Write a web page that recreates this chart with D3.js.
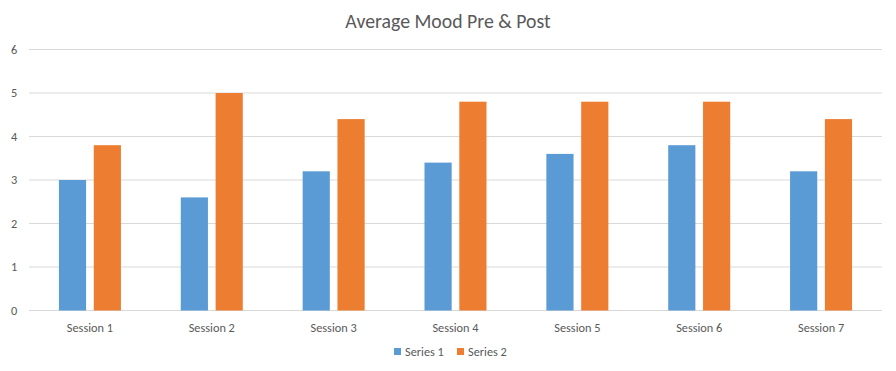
<!DOCTYPE html>
<html>
<head>
<meta charset="utf-8">
<script src="https://cdn.jsdelivr.net/npm/d3@7"></script>
<style>
  body { margin: 0; background: #fff; }
  text { font-family: Carlito, "Open Sans", "Liberation Sans", sans-serif; fill: #595959; }
</style>
</head>
<body>
<div id="chart"></div>
<script>
var sessions = ["Session 1", "Session 2", "Session 3", "Session 4", "Session 5", "Session 6", "Session 7"];
var series1 = [3, 2.6, 3.2, 3.4, 3.6, 3.8, 3.2];
var series2 = [3.8, 5, 4.4, 4.8, 4.8, 4.8, 4.4];
var seriesNames = ["Series 1", "Series 2"];
var colors = ["#5B9BD5", "#ED7D31"];
var yTicks = [0, 1, 2, 3, 4, 5, 6];

var svgWidth = 896, svgHeight = 371;
var margin = { top: 49.5, right: 14, bottom: 60.5, left: 29 };
var width = svgWidth - margin.left - margin.right;
var height = svgHeight - margin.top - margin.bottom;

var svg = d3.select("#chart").append("svg")
  .attr("width", svgWidth)
  .attr("height", svgHeight);

var chartGroup = svg.append("g")
  .attr("transform", `translate(${margin.left}, ${margin.top})`);

var x0 = d3.scaleBand().domain(sessions).range([0, width]);
var x1 = d3.scaleBand().domain(seriesNames).range([0, 62]).paddingInner(0.22);
var y = d3.scaleLinear().domain([0, 6]).range([height, 0]);

// gridlines
chartGroup.append("g").selectAll("line")
  .data(yTicks)
  .enter().append("line")
  .attr("x1", 0).attr("x2", width)
  .attr("y1", d => y(d)).attr("y2", d => y(d))
  .attr("stroke", "#D9D9D9")
  .attr("stroke-width", 1);

// y labels
chartGroup.append("g").selectAll("text")
  .data(yTicks)
  .enter().append("text")
  .attr("x", -15)
  .attr("y", d => y(d))
  .attr("dy", "0.35em")
  .attr("text-anchor", "middle")
  .style("font-size", "12.3px")
  .text(d => d);

// bars
var data = sessions.map((s, i) => ({ session: s, values: [series1[i], series2[i]] }));
var groups = chartGroup.selectAll(".session")
  .data(data)
  .enter().append("g")
  .attr("transform", d => `translate(${x0(d.session) + x0.bandwidth() / 2 - 31}, 0)`);

groups.selectAll("rect")
  .data(d => d.values.map((v, j) => ({ name: seriesNames[j], value: v, c: colors[j] })))
  .enter().append("rect")
  .attr("x", d => x1(d.name))
  .attr("width", x1.bandwidth())
  .attr("y", d => y(d.value))
  .attr("height", d => height - y(d.value))
  .attr("fill", d => d.c);

// x labels
chartGroup.append("g").selectAll("text")
  .data(sessions)
  .enter().append("text")
  .attr("x", d => x0(d) + x0.bandwidth() / 2)
  .attr("y", height + 21)
  .attr("text-anchor", "middle")
  .style("font-size", "12.3px")
  .text(d => d);

// title
svg.append("text")
  .attr("x", svgWidth / 2)
  .attr("y", 28)
  .attr("text-anchor", "middle")
  .style("font-size", "19.8px")
  .text("Average Mood Pre & Post");

// legend
var legend = svg.append("g").attr("transform", "translate(394, 352)");
var legendItems = legend.selectAll("g")
  .data(seriesNames)
  .enter().append("g")
  .attr("transform", (d, i) => `translate(${i * 63}, 0)`);
legendItems.append("rect")
  .attr("x", 0).attr("y", -4)
  .attr("width", 7).attr("height", 7)
  .attr("fill", (d, i) => colors[i]);
legendItems.append("text")
  .attr("x", 11)
  .attr("y", 0)
  .attr("dy", "0.35em")
  .style("font-size", "12.3px")
  .text(d => d);
</script>
</body>
</html>
